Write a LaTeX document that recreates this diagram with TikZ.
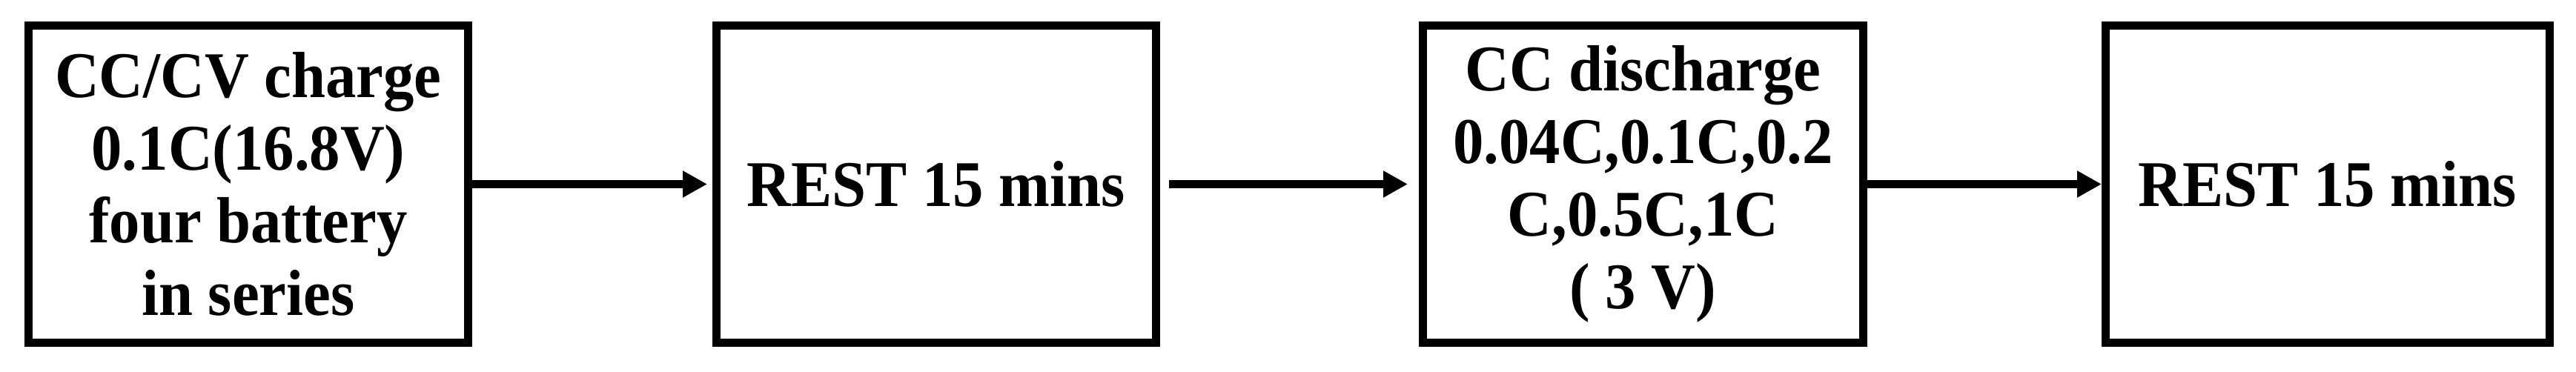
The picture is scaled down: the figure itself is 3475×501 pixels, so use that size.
\documentclass[tikz,border=0pt]{standalone}
\usepackage{fontspec}
\setmainfont{Liberation Serif}[FakeStretch=0.94]
\usetikzlibrary{arrows.meta}
\tikzset{
  stagebox/.style={draw=black, line width=11pt, fill=white, inner sep=0pt,
    minimum height=428pt, align=center,
    font=\bfseries\fontsize{88pt}{98pt}\selectfont},
  flowarrow/.style={line width=11pt, -{Triangle[length=33pt,width=34pt]}}
}
\begin{document}
\begin{tikzpicture}[x=1pt,y=1pt]
\useasboundingbox (0,0) rectangle (3475,501);
\node[stagebox, minimum width=593pt] (b1) at (335,252.5)
  {CC/CV charge\\0.1C(16.8V)\\four battery\\in series};
\node[stagebox, minimum width=593pt] (b2) at (1263,252.5) {REST 15 mins};
\node[stagebox, minimum width=594pt] (b3) at (2216.5,252.5)
  {CC discharge\\0.04C,0.1C,0.2\\C,0.5C,1C\\( 3 V)};
\node[stagebox, minimum width=599pt] (b4) at (3140,252.5) {REST 15 mins};
\draw[flowarrow, shorten >=7pt] (b1.east) -- (b2.west);
\draw[flowarrow, shorten <=12pt, shorten >=15pt] (b2.east) -- (b3.west);
\draw[flowarrow] (b3.east) -- (b4.west);
\end{tikzpicture}
\end{document}
